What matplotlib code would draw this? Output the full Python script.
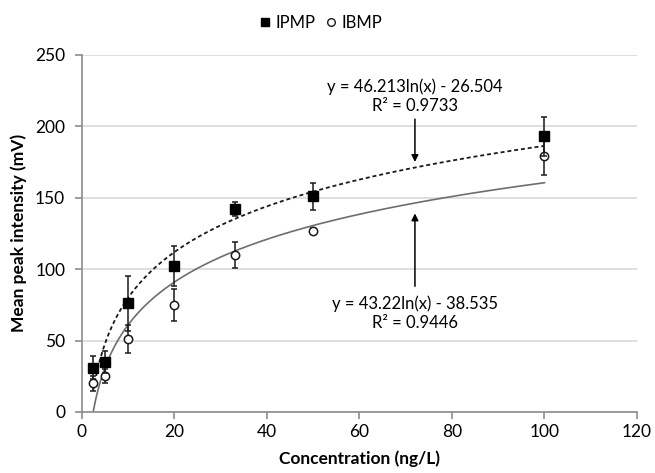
import numpy as np
import matplotlib
matplotlib.use("Agg")
import matplotlib.pyplot as plt
from matplotlib.lines import Line2D

plt.rcParams['font.family'] = ['Lato', 'DejaVu Sans']

# Concentrations and measured peak intensities
conc = [2.5, 5, 10, 20, 33, 50, 100]
ipmp = [31, 35, 76, 102, 142, 151, 193]
ipmp_err = [8, 8, 19, 14, 5, 9.5, 13.5]
ibmp = [20, 25, 51, 75, 110, 127, 179]
ibmp_err = [5, 5, 10, 11, 9, 1.5, 13]

# Logarithmic trendline coefficients: y = a*ln(x) + b
ipmp_fit = (46.213, -26.504)
ibmp_fit = (43.22, -38.535)
ipmp_r2 = 0.9733
ibmp_r2 = 0.9446

x_ticks = [0, 20, 40, 60, 80, 100, 120]
y_ticks = [0, 50, 100, 150, 200, 250]

fig = plt.figure(figsize=(6.55, 4.73), dpi=100)
ax = fig.add_axes([0.125, 0.129, 0.8475, 0.755])

grid_c = '#d9d9d9'
axis_c = '#8c8c8c'

# Fitted curves
xs = np.linspace(min(conc), max(conc), 400)
ax.plot(xs, ipmp_fit[0] * np.log(xs) + ipmp_fit[1], color='#1a1a1a',
        linestyle=(0, (2.2, 1.6)), linewidth=1.3, zorder=3)
ax.plot(xs, ibmp_fit[0] * np.log(xs) + ibmp_fit[1], color='#6e6e6e',
        linestyle='-', linewidth=1.2, zorder=3)

# Data points with error bars
ax.errorbar(conc, ibmp, yerr=ibmp_err, fmt='o', markersize=6,
            markerfacecolor='white', markeredgecolor='#1a1a1a',
            markeredgewidth=1.1, ecolor='#1a1a1a', elinewidth=1.1,
            capsize=2, capthick=1.1, zorder=4)
ax.errorbar(conc, ipmp, yerr=ipmp_err, fmt='s', markersize=6.5,
            markerfacecolor='black', markeredgecolor='black',
            ecolor='#1a1a1a', elinewidth=1.1,
            capsize=2, capthick=1.1, zorder=5)

ax.set_xlim(0, 120)
ax.set_ylim(0, 250)
ax.set_xticks(x_ticks)
ax.set_yticks(y_ticks)
ax.yaxis.grid(True, color=grid_c, linewidth=1.2)
ax.set_axisbelow(True)

for s in ['top', 'right']:
    ax.spines[s].set_visible(False)
for s in ['left', 'bottom']:
    ax.spines[s].set_color(axis_c)
    ax.spines[s].set_linewidth(1.2)
ax.tick_params(axis='both', colors=axis_c, labelcolor='black',
               labelsize=12.5, length=5, width=1.2)
ax.tick_params(axis='y', pad=7)

ax.set_xlabel('Concentration (ng/L)', fontsize=12.5, fontweight='bold', labelpad=8)
ax.set_ylabel('Mean peak intensity (mV)', fontsize=12.5, fontweight='bold', labelpad=6)

# Trendline equations with arrows
ax.text(72, 221, f'y = {ipmp_fit[0]}ln(x) - {abs(ipmp_fit[1])}\nR² = {ipmp_r2}',
        ha='center', va='center', fontsize=12, linespacing=1.2)
ax.annotate('', xy=(72, 175), xytext=(72, 205),
            arrowprops=dict(arrowstyle='-|>', color='black', lw=1.1,
                            mutation_scale=10, shrinkA=0, shrinkB=0))
ax.text(72, 69, f'y = {ibmp_fit[0]}ln(x) - {abs(ibmp_fit[1])}\nR² = {ibmp_r2}',
        ha='center', va='center', fontsize=12, linespacing=1.2)
ax.annotate('', xy=(72, 139), xytext=(72, 88),
            arrowprops=dict(arrowstyle='-|>', color='black', lw=1.1,
                            mutation_scale=10, shrinkA=0, shrinkB=0))

legend_handles = [
    Line2D([], [], linestyle='none', marker='s', markersize=5.5,
           markerfacecolor='black', markeredgecolor='black', label='IPMP'),
    Line2D([], [], linestyle='none', marker='o', markersize=5.5,
           markerfacecolor='white', markeredgecolor='#1a1a1a', label='IBMP'),
]
fig.legend(handles=legend_handles, loc='center', bbox_to_anchor=(0.49, 0.951),
           ncol=2, frameon=False, fontsize=12, handlelength=0.6,
           handletextpad=0.35, columnspacing=0.6)

fig.savefig('out.png', dpi=100)
